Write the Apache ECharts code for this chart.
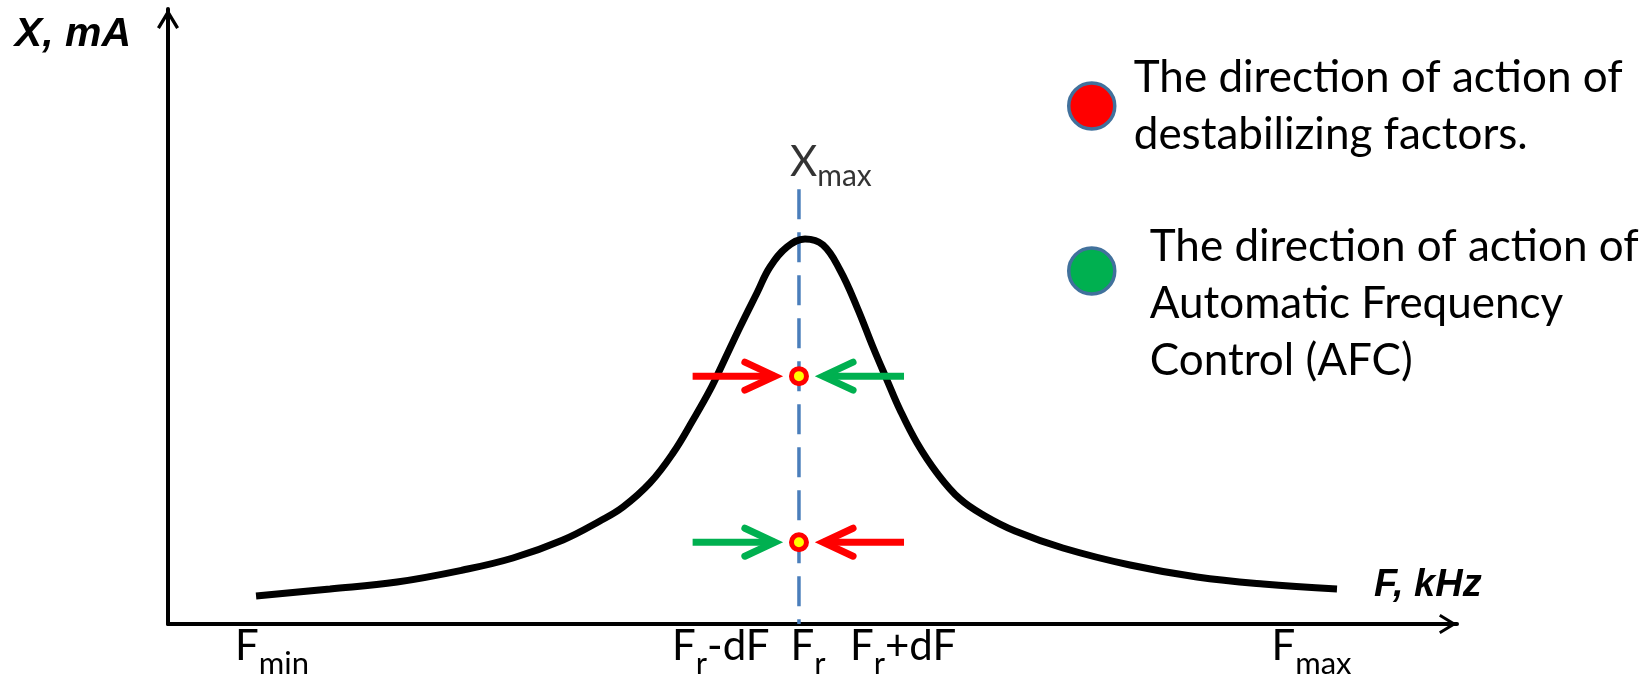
<!DOCTYPE html>
<html><head><meta charset="utf-8">
<script src="https://cdn.jsdelivr.net/npm/echarts@6/dist/echarts.min.js"></script>
<style>html,body{margin:0;padding:0;background:#fff}#c{width:1645px;height:677px}</style>
</head><body><div id="c"></div>
<script>
// ---- data (frequency axis 0..100, amplitude axis 0..100, arbitrary units) ----
const curveF = [6.83,12.57,17.77,22.89,26.76,30.64,33.51,35.30,37.39,39.18,40.73,42.05,43.06,44.38,45.69,46.70,48.02,49.42,50.81,52.13,53.45,54.69,55.78,56.79,58.11,59.66,61.44,63.38,65.71,69.43,74.63,79.83,84.95,90.69];
const curveX = [4.55,5.69,6.83,8.78,10.73,13.66,16.75,19.02,22.93,27.80,33.17,38.05,42.44,48.29,53.82,58.05,61.30,62.60,61.63,57.56,51.54,45.04,39.67,34.80,29.43,24.55,20.33,17.56,15.12,12.36,9.59,7.64,6.50,5.69];
const F_RES = 48.95;
const X_MAX_MARK = 70.7;
const tickValues = [5.2, 39.1, 48.3, 52.9, 85.6];
const tickMain = ['F', 'F', 'F', 'F', 'F'];
const tickSub = ['min', 'r', 'r', 'r', 'max'];
const tickTail = ['', '-dF', '', '+dF', ''];
const pointLevels = [40.3, 13.3];
// arrows: [start F, level, tip F]
const redArrows = [[40.7, 40.3, 47.7], [57.1, 13.3, 50.2]];
const greenArrows = [[57.1, 40.3, 50.2], [40.7, 13.3, 47.7]];
const legendRedName = 'The direction of action of destabilizing factors.';
const legendGreenName = 'The direction of action of Automatic Frequency Control (AFC)';
const legendRedLines = ['The direction of action of', 'destabilizing factors.'];
const legendGreenLines = ['The direction of action of', 'Automatic Frequency', 'Control (AFC)'];

const FONT = 'Lato';
const AXFONT = 'Liberation Sans';
const chevron = 'path://M0,16.5 L10,0 L20,16.5 L17.43,18.05 L10,5.79 L2.57,18.05 Z';

function renderArrow(params, api) {
  const y = api.value(1);
  const s = api.coord([api.value(0), y]);
  const t = api.coord([api.value(2), y]);
  const dir = t[0] > s[0] ? 1 : -1;
  const color = api.visual('color');
  const vx = t[0] - dir * 8;
  const headLen = 30, headHalf = 14;
  return {
    type: 'group',
    children: [
      { type: 'line', shape: { x1: s[0], y1: s[1], x2: vx, y2: t[1] },
        style: { stroke: color, lineWidth: 7, lineCap: 'butt' } },
      { type: 'polyline', shape: { points: [[vx - dir * headLen, t[1] - headHalf], [vx, t[1]], [vx - dir * headLen, t[1] + headHalf]] },
        style: { stroke: color, fill: null, lineWidth: 7, lineCap: 'round', lineJoin: 'miter' } }
    ]
  };
}

const chart = echarts.init(document.getElementById('c'));
chart.setOption({
  animation: false,
  backgroundColor: '#fff',
  grid: { left: 168, right: 188, top: 9, bottom: 53, containLabel: false, outerBoundsMode: 'none' },
  xAxis: {
    type: 'value', min: 0, max: 100,
    name: 'F, kHz', nameLocation: 'end', nameGap: -83,
    nameTextStyle: { fontFamily: AXFONT, fontWeight: 'bold', fontStyle: 'italic', fontSize: 38, lineHeight: 38,
      color: '#000', align: 'left', verticalAlign: 'bottom', padding: [0, 0, 19, 0] },
    axisLine: { show: true, onZero: false, symbol: ['none', chevron], symbolSize: [20, 18], symbolOffset: [0, -9],
      lineStyle: { color: '#000', width: 4 } },
    axisTick: { show: false },
    splitLine: { show: false },
    axisLabel: {
      customValues: tickValues,
      align: 'left', margin: 1.5,
      formatter: function (v) {
        let i = 0, best = 1e9;
        tickValues.forEach((t, k) => { if (Math.abs(t - v) < best) { best = Math.abs(t - v); i = k; } });
        return '{m|' + tickMain[i] + '}{s|' + tickSub[i] + '}' + (tickTail[i] ? '{m|' + tickTail[i] + '}' : '');
      },
      rich: {
        m: { fontFamily: FONT, fontSize: 42, lineHeight: 54, verticalAlign: 'top', color: '#000' },
        s: { fontFamily: FONT, fontSize: 31, lineHeight: 54, verticalAlign: 'bottom', color: '#000' }
      }
    }
  },
  yAxis: {
    type: 'value', min: 0, max: 100,
    name: 'X, mA', nameLocation: 'end', nameGap: -26,
    nameTextStyle: { fontFamily: AXFONT, fontWeight: 'bold', fontStyle: 'italic', fontSize: 41, lineHeight: 41,
      color: '#000', align: 'right', verticalAlign: 'middle', padding: [0, 37, 0, 0] },
    axisLine: { show: true, onZero: false, symbol: ['none', chevron], symbolSize: [22, 20], symbolOffset: [0, -10],
      lineStyle: { color: '#000', width: 4 } },
    axisTick: { show: false },
    splitLine: { show: false },
    axisLabel: { show: false }
  },
  legend: [
    {
      data: [{ name: legendRedName, icon: 'circle', itemStyle: { color: '#FF0000', borderColor: '#41719C', borderWidth: 3.5 } }],
      left: 1067, top: 49, padding: 0, itemWidth: 46, itemHeight: 46, selectedMode: false,
      formatter: function () { return legendRedLines.join('\n'); },
      textStyle: { fontFamily: FONT, fontSize: 44, lineHeight: 57, color: '#000', padding: [0, 0, 0, 14] }
    },
    {
      data: [{ name: legendGreenName, icon: 'circle', itemStyle: { color: '#00B050', borderColor: '#41719C', borderWidth: 3.5 } }],
      left: 1067, top: 153, padding: 0, itemWidth: 46, itemHeight: 46, selectedMode: false,
      formatter: function () { return '{sp| }\n' + legendGreenLines.map(l => '{t|' + l + '}').join('\n'); },
      textStyle: { fontFamily: FONT, fontSize: 44, lineHeight: 57, color: '#000', padding: [0, 0, 0, 30],
        rich: { sp: { fontFamily: FONT, fontSize: 10, lineHeight: 65 },
                t: { fontFamily: FONT, fontSize: 44, lineHeight: 57, color: '#000' } } }
    }
  ],
  series: [
    {
      name: 'Fr', type: 'line', z: 1, silent: true, symbol: 'none',
      data: [[F_RES, X_MAX_MARK], [F_RES, 0]],
      lineStyle: { color: '#4A7EBB', width: 3.5, type: [30, 13] }
    },
    {
      name: 'Xmax', type: 'scatter', z: 1, silent: true, symbolSize: 1,
      itemStyle: { color: 'rgba(0,0,0,0)' },
      data: [[F_RES, X_MAX_MARK]],
      label: {
        show: true, position: 'top', distance: 1, align: 'left', offset: [-9, 4],
        formatter: '{m|X}{s|max}',
        rich: {
          m: { fontFamily: FONT, fontSize: 42, lineHeight: 50, verticalAlign: 'top', color: '#000' },
          s: { fontFamily: FONT, fontSize: 30, lineHeight: 50, verticalAlign: 'bottom', color: '#000' }
        }
      }
    },
    {
      name: 'X(F)', type: 'line', z: 2, silent: true, symbol: 'none', smooth: 0.4,
      data: curveF.map((f, i) => [f, curveX[i]]),
      lineStyle: { color: '#000', width: 7 }
    },
    {
      name: legendRedName, type: 'custom', z: 3, silent: true,
      itemStyle: { color: '#FF0000' },
      encode: { x: [0, 2], y: 1 },
      data: redArrows, renderItem: renderArrow
    },
    {
      name: legendGreenName, type: 'custom', z: 3, silent: true,
      itemStyle: { color: '#00B050' },
      encode: { x: [0, 2], y: 1 },
      data: greenArrows, renderItem: renderArrow
    },
    {
      name: 'points', type: 'scatter', z: 4, silent: true, symbolSize: 15,
      itemStyle: { color: '#FFFF00', borderColor: '#FF0000', borderWidth: 5, opacity: 1 },
      data: pointLevels.map(v => [F_RES, v])
    }
  ]
});
</script>
</body></html>
